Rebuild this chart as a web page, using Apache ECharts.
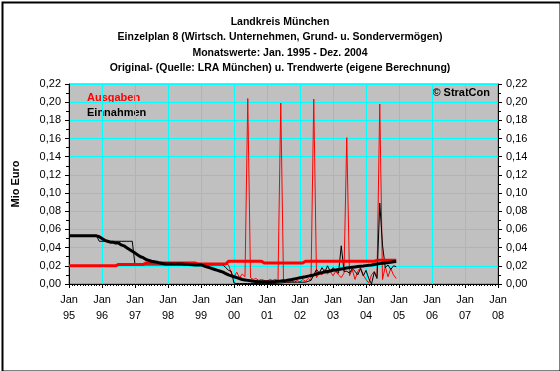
<!DOCTYPE html>
<html>
<head>
<meta charset="utf-8">
<script src="https://cdn.jsdelivr.net/npm/echarts@6/dist/echarts.min.js"></script>
<style>
html,body{margin:0;padding:0;background:#fff;}
#c{width:560px;height:371px;}
</style>
</head>
<body>
<div id="c"></div>
<script>
// Monthly values Jan 1995 (index 0) .. Dec 2004 (index 119), Mio Euro
var ausgaben = [
  // 1995
  0.020,0.020,0.020,0.020,0.020,0.020,0.020,0.020,0.020,0.020,0.020,0.020,
  // 1996
  0.020,0.020,0.020,0.020,0.020,0.020,0.0215,0.0215,0.0215,0.0215,0.0215,0.0215,
  // 1997
  0.0215,0.0215,0.0215,0.0215,0.023,0.023,0.023,0.023,0.023,0.023,0.023,0.023,
  // 1998
  0.023,0.023,0.023,0.023,0.023,0.023,0.023,0.023,0.023,0.023,0.023,0.022,
  // 1999
  0.022,0.022,0.022,0.022,0.022,0.022,0.022,0.022,0.022,0.022,0.021,0.012,
  // 2000
  0.008,0.013,0.007,0.011,0.008,0.204,0.007,0.005,0.006,0.004,0.005,0.004,
  // 2001
  0.003,0.005,0.004,0.005,0.004,0.199,0.004,0.002,0.002,0.003,0.002,0.004,
  // 2002
  0.002,0.005,0.003,0.006,0.004,0.2035,0.007,0.012,0.010,0.016,0.011,0.014,
  // 2003
  0.009,0.014,0.010,0.007,0.012,0.161,0.009,0.016,0.005,0.014,0.018,0.010,
  // 2004
  0.005,0.001,0.010,0.014,0.008,0.198,0.005,0.019,0.008,0.017,0.010,0.006
];
var einnahmen = [
  // 1995
  0.053,0.053,0.053,0.053,0.053,0.053,0.053,0.053,0.053,0.053,0.053,0.047,
  // 1996
  0.047,0.047,0.047,0.047,0.047,0.047,0.047,0.047,0.047,0.047,0.047,0.047,
  // 1997
  0.021,0.021,0.021,0.021,0.021,0.021,0.021,0.021,0.021,0.021,0.021,0.021,
  // 1998
  0.021,0.021,0.021,0.021,0.021,0.021,0.021,0.021,0.021,0.021,0.021,0.021,
  // 1999
  0.021,0.021,0.021,0.021,0.021,0.021,0.021,0.021,0.021,0.018,0.015,0.014,
  // 2000
  0.001,0.0005,0.0005,0.0005,0.0005,0.0005,0.0005,0.0005,0.0005,0.0005,0.0005,0.0005,
  // 2001
  0.0005,0.0005,0.0005,0.0005,0.001,0.001,0.0015,0.002,0.002,0.002,0.002,0.002,
  // 2002
  0.002,0.002,0.002,0.003,0.004,0.010,0.016,0.012,0.018,0.013,0.020,0.014,
  // 2003
  0.018,0.015,0.012,0.042,0.014,0.014,0.012,0.017,0.014,0.010,0.017,0.009,
  // 2004
  0.015,0.006,0.000,0.013,0.006,0.089,0.043,0.018,0.021,0.016,0.020,0.019
];
var trendAusgaben = [
  0.020,0.020,0.020,0.020,0.020,0.020,0.020,0.020,0.020,0.020,0.020,0.020,
  0.020,0.020,0.020,0.020,0.020,0.020,0.0215,0.0215,0.0215,0.0215,0.0215,0.0215,
  0.0215,0.0215,0.0215,0.0215,0.023,0.023,0.023,0.023,0.023,0.023,0.023,0.023,
  0.023,0.023,0.023,0.023,0.023,0.023,0.023,0.023,0.023,0.023,0.023,0.022,
  0.022,0.022,0.022,0.022,0.022,0.022,0.022,0.022,0.022,0.022,0.025,0.025,
  0.025,0.025,0.025,0.025,0.025,0.025,0.025,0.025,0.025,0.025,0.025,0.023,
  0.023,0.023,0.023,0.023,0.023,0.023,0.023,0.023,0.023,0.023,0.023,0.023,
  0.023,0.023,0.025,0.025,0.025,0.025,0.025,0.025,0.025,0.025,0.025,0.025,
  0.025,0.025,0.025,0.025,0.025,0.025,0.025,0.025,0.025,0.025,0.025,0.025,
  0.025,0.025,0.025,0.025,0.026,0.026,0.026,0.026,0.026,0.026,0.026,0.026
];
var trendEinnahmen = [
  0.053,0.053,0.053,0.053,0.053,0.053,0.053,0.053,0.053,0.053,0.053,0.052,
  0.050,0.048,0.047,0.046,0.046,0.045,0.045,0.043,0.042,0.040,0.038,0.036,
  0.034,0.032,0.030,0.029,0.027,0.026,0.025,0.0245,0.024,0.023,0.0225,0.022,
  0.022,0.022,0.022,0.022,0.022,0.022,0.0218,0.0216,0.0214,0.0212,0.021,0.021,
  0.021,0.020,0.019,0.018,0.017,0.016,0.015,0.014,0.013,0.0115,0.010,0.009,
  0.008,0.007,0.006,0.005,0.0045,0.004,0.0035,0.003,0.0028,0.0026,0.0025,0.0024,
  0.0024,0.0025,0.0026,0.0027,0.0029,0.0032,0.0036,0.004,0.0045,0.005,0.0056,0.0062,
  0.0068,0.0074,0.008,0.0087,0.0094,0.010,0.011,0.0118,0.0125,0.0132,0.0138,0.0144,
  0.015,0.0155,0.016,0.0165,0.017,0.0175,0.018,0.0184,0.0188,0.0192,0.0195,0.0198,
  0.0202,0.0206,0.021,0.0215,0.022,0.0224,0.0228,0.0232,0.0236,0.024,0.0244,0.0248
];
var xTickLabels = ['Jan\n95','Jan\n96','Jan\n97','Jan\n98','Jan\n99','Jan\n00','Jan\n01',
                   'Jan\n02','Jan\n03','Jan\n04','Jan\n05','Jan\n06','Jan\n07','Jan\n08'];
var yTickLabels = ['0,00','0,02','0,04','0,06','0,08','0,10','0,12','0,14','0,16','0,18','0,20','0,22'];
var titleLines = ['Landkreis München',
  'Einzelplan 8 (Wirtsch. Unternehmen, Grund- u. Sondervermögen)',
  'Monatswerte: Jan. 1995 - Dez. 2004',
  'Original- (Quelle: LRA München) u. Trendwerte (eigene Berechnung)'];

function pairs(arr){ return arr.map(function(v,i){ return [i, v]; }); }

var FONT = '"Liberation Sans", Arial, sans-serif';
var chart = echarts.init(document.getElementById('c'), null, {renderer:'canvas'});

function yAxisDef(pos){
  return {
    type:'value', position:pos, min:0, max:0.22, interval:0.02,
    axisLine:{show:true, lineStyle:{color:'#000', width:1}},
    axisTick:{show:true, inside:false, length:4, lineStyle:{color:'#000'}},
    minorTick:{show:true, splitNumber:2, length:3, lineStyle:{color:'#000'}},
    splitLine:{show: pos==='left', lineStyle:{color:'#00FFFF', width:1}},
    axisLabel:{show:true, margin:8, color:'#000', fontFamily:FONT, fontSize:11,
      formatter:function(v){ return yTickLabels[Math.round(v/0.02)]; }},
    name: pos==='left' ? 'Mio Euro' : '',
    nameLocation:'middle', nameRotate:90, nameGap:48,
    nameTextStyle:{color:'#000', fontFamily:FONT, fontSize:11, fontWeight:'bold'}
  };
}

chart.setOption({
  backgroundColor:'#fff',
  animation:false,
  title:{
    text: titleLines.join('\n'),
    left:'center', top:9,
    textStyle:{fontFamily:FONT, fontSize:10.5, fontWeight:'bold', color:'#000', lineHeight:15.5}
  },
  grid:{left:69, right:62, top:84, bottom:87, show:true, backgroundColor:'#C0C0C0',
        borderColor:'#808080', borderWidth:1},
  xAxis:{
    type:'value', min:0, max:156, interval:12,
    axisLine:{show:true, onZero:false, lineStyle:{color:'#000', width:1}},
    axisTick:{show:true, length:4, lineStyle:{color:'#000'}},
    minorTick:{show:true, splitNumber:12, length:2, lineStyle:{color:'#000'}},
    splitLine:{show:true, lineStyle:{color:'#00FFFF', width:1}},
    axisLabel:{margin:8, color:'#000', fontFamily:FONT, fontSize:11, lineHeight:16,
      formatter:function(v){ return xTickLabels[Math.round(v/12)]; }}
  },
  yAxis:[yAxisDef('left'), yAxisDef('right')],
  series:[
    {name:'Ausgaben', type:'line', data:pairs(ausgaben), showSymbol:false, symbol:'none',
     lineStyle:{color:'#FF0000', width:1}, itemStyle:{color:'#FF0000'}, z:2},
    {name:'Einnahmen', type:'line', data:pairs(einnahmen), showSymbol:false, symbol:'none',
     lineStyle:{color:'#000', width:1}, itemStyle:{color:'#000'}, z:2},
    {name:'Trend Ausgaben', type:'line', data:pairs(trendAusgaben), showSymbol:false, symbol:'none',
     lineStyle:{color:'#FF0000', width:3}, itemStyle:{color:'#FF0000'}, z:3},
    {name:'Trend Einnahmen', type:'line', data:pairs(trendEinnahmen), showSymbol:false, symbol:'none',
     lineStyle:{color:'#000', width:3}, itemStyle:{color:'#000'}, z:4}
  ],
  graphic:[
    {type:'rect', left:0, top:0, shape:{x:1, y:1, width:558, height:369},
     style:{fill:'none', stroke:'#000', lineWidth:2}, silent:true},
    {type:'text', left:87, top:92, style:{text:'Ausgaben', fill:'#FF0000',
      font:'bold 11px ' + FONT}},
    {type:'text', left:87, top:107, style:{text:'Einnahmen', fill:'#000',
      font:'bold 11px ' + FONT}},
    {type:'text', right:70, top:87, style:{text:'© StratCon', fill:'#000',
      font:'bold 11px ' + FONT}}
  ]
});
</script>
</body>
</html>
